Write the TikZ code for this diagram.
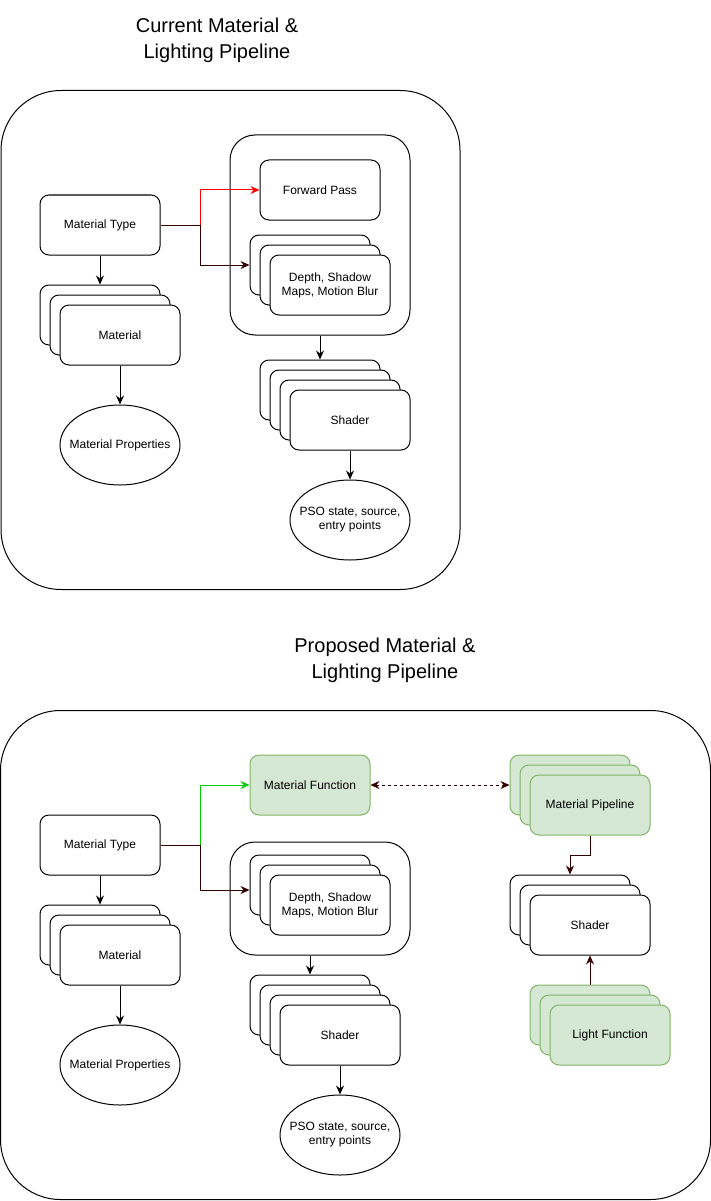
\documentclass[tikz,border=0pt]{standalone}
\usepackage{fontspec}
\setmainfont{Liberation Sans}
\usepackage{tikz}
\usetikzlibrary{
  shapes.geometric
  , calc
  , positioning
  , arrows.meta
}

\definecolor{LinkRed}{HTML}{FF0000}
\definecolor{LinkDark}{HTML}{330000}
\definecolor{LinkGreen}{HTML}{00CC00}
\definecolor{FuncFill}{HTML}{D5E8D4}
\definecolor{FuncLine}{HTML}{82B366}

\tikzset{
  card/.style={draw, fill=white, rounded corners=9pt,
    minimum width=120pt, minimum height=60pt, inner sep=0pt,
    align=center, font=\fontsize{12}{14}\selectfont},
  greencard/.style={card, draw=FuncLine, fill=FuncFill},
  grouping/.style={draw, rounded corners=25pt, inner sep=0pt},
  outerbox/.style={draw, rounded corners=60pt, inner sep=0pt},
  ellip/.style={draw, ellipse, fill=white, minimum width=120pt,
    minimum height=80pt, inner sep=-20pt, align=center,
    font=\fontsize{12}{14}\selectfont},
  heading/.style={align=center, font=\fontsize{20}{26}\selectfont},
  link/.style={-{Stealth[length=9pt,width=8pt,inset=3pt]}, line width=1pt},
}

\begin{document}
\begin{tikzpicture}[x=1pt, y=-1pt, line width=1pt]
  \useasboundingbox (0,0) rectangle (711,1201);

  % ---- current pipeline
  \node[heading] (TitleCur) at (217,40) {Current Material \&\\Lighting Pipeline};
  \node[outerbox, minimum width=459pt, minimum height=499pt] (CurBox) at (230.5,340) {};

  \node[card] (MatType) at (100,225) {Material Type};
  \foreach \i in {0,1}
    \node[card] (MatS\i) at ({100+10*\i},{315+10*\i}) {};
  \node[card] (MatS2) at (120,335) {Material};
  \node[ellip] (MatProp) at (120,445) {Material Properties};

  \node[grouping, minimum width=180pt, minimum height=200pt] (PassGrp) at (320,235) {};
  \node[card] (FwdPass) at (320,190) {Forward Pass};
  \foreach \i in {0,1}
    \node[card] (DpthS\i) at ({310+10*\i},{265+10*\i}) {};
  \node[card] (DpthS2) at (330,285) {Depth, Shadow\\Maps, Motion Blur};

  \foreach \i in {0,1,2}
    \node[card] (ShdS\i) at ({320+10*\i},{390+10*\i}) {};
  \node[card] (ShdS3) at (350,420) {Shader};
  \node[ellip] (PSO) at (350,520) {PSO state, source,\\entry points};

  \draw[link, LinkRed]
  (MatType.east) -- ($ (MatType.east)+(40,0) $) |- (FwdPass.west);
  \draw[link, LinkDark]
  (MatType.east) -- ($ (MatType.east)+(40,0) $) |- (DpthS0.west);
  \draw[link] (MatType.south) -- (MatS0.north);
  \draw[link] (MatS2.south) -- (MatProp.north);
  \draw[link] (PassGrp.south -| ShdS0.north) -- (ShdS0.north);
  \draw[link] (ShdS3.south) -- (PSO.north);

  % ---- proposed pipeline
  \node[heading] (TitleNew) at (385,660) {Proposed Material \&\\Lighting Pipeline};
  \node[outerbox, minimum width=710pt, minimum height=489pt] (NewBox) at (355.5,955) {};

  \node[card] (MatTypeB) at (100,845) {Material Type};
  \foreach \i in {0,1}
    \node[card] (MatB\i) at ({100+10*\i},{935+10*\i}) {};
  \node[card] (MatB2) at (120,955) {Material};
  \node[ellip] (MatPropB) at (120,1065) {Material Properties};

  \node[greencard] (MatFunc) at (310,785) {Material Function};

  \node[grouping, minimum width=180pt, minimum height=113pt] (PassGrpB) at (320,898.5) {};
  \foreach \i in {0,1}
    \node[card] (DpthB\i) at ({310+10*\i},{885+10*\i}) {};
  \node[card] (DpthB2) at (330,905) {Depth, Shadow\\Maps, Motion Blur};

  \foreach \i in {0,1,2}
    \node[card] (ShdB\i) at ({310+10*\i},{1005+10*\i}) {};
  \node[card] (ShdB3) at (340,1035) {Shader};
  \node[ellip] (PSOB) at (340,1135) {PSO state, source,\\entry points};

  \foreach \i in {0,1}
    \node[greencard] (MatPipe\i) at ({570+10*\i},{785+10*\i}) {};
  \node[greencard] (MatPipe2) at (590,805) {Material Pipeline};

  \foreach \i in {0,1}
    \node[card] (ShdR\i) at ({570+10*\i},{905+10*\i}) {};
  \node[card] (ShdR2) at (590,925) {Shader};

  \foreach \i in {0,1}
    \node[greencard] (LightFn\i) at ({590+10*\i},{1015+10*\i}) {};
  \node[greencard] (LightFn2) at (610,1035) {Light Function};

  \draw[link, LinkGreen]
  (MatTypeB.east) -- ($ (MatTypeB.east)+(40,0) $) |- (MatFunc.west);
  \draw[link, LinkDark]
  (MatTypeB.east) -- ($ (MatTypeB.east)+(40,0) $) |- ([yshift=-5pt]DpthB0.west);
  \draw[link] (MatTypeB.south) -- (MatB0.north);
  \draw[link] (MatB2.south) -- (MatPropB.north);
  \draw[link] (PassGrpB.south -| ShdB0.north) -- (ShdB0.north);
  \draw[link] (ShdB3.south) -- (PSOB.north);

  \draw[link, LinkDark, {Stealth[length=9pt,width=8pt,inset=3pt]}-{Stealth[length=9pt,width=8pt,inset=3pt]},
    dash pattern=on 3pt off 3pt]
  (MatFunc.east) -- (MatPipe0.west);
  \draw[link, LinkDark] (MatPipe2.south) -- ++(0,20) -| (ShdR0.north);
  \draw[link, LinkDark] (LightFn0.north) -- (ShdR2.south);
\end{tikzpicture}
\end{document}
